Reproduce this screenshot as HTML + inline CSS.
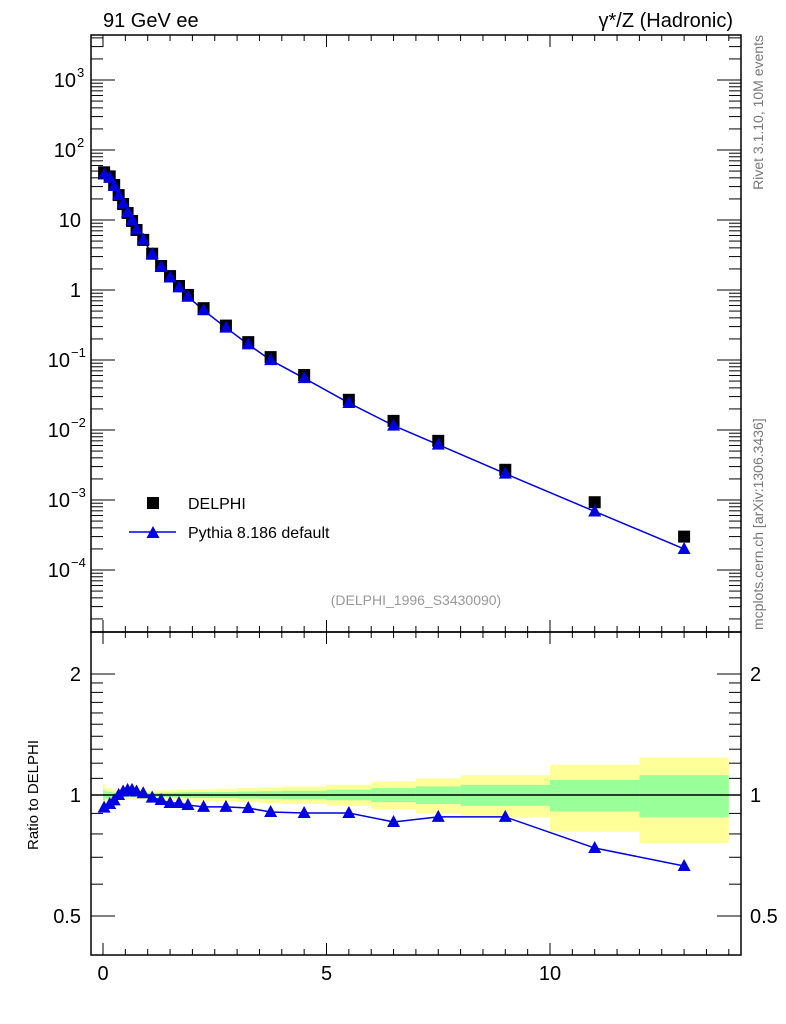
<!DOCTYPE html>
<html><head><meta charset="utf-8"><style>
body{margin:0;background:#fff}
svg{display:block;font-family:"Liberation Sans",sans-serif}
</style></head><body>
<svg id="c" width="786" height="1024" viewBox="0 0 786 1024" xmlns="http://www.w3.org/2000/svg">
<g id="bands"></g><g id="grid"></g><g id="marks"></g><g id="axes"></g>
<text x="103" y="27" font-size="20">91 GeV ee</text>
<text x="733" y="27" font-size="20" text-anchor="end">γ*/Z (Hadronic)</text>
<text transform="translate(763,35) rotate(-90)" font-size="14" fill="#777" text-anchor="end">Rivet 3.1.10,  10M events</text>
<text transform="translate(763,630) rotate(-90)" font-size="14" fill="#777">mcplots.cern.ch [arXiv:1306.3436]</text>
<text x="416" y="605" font-size="14" fill="#999" text-anchor="middle">(DELPHI_1996_S3430090)</text>
<text transform="translate(38,795) rotate(-90)" font-size="15" text-anchor="middle">Ratio to DELPHI</text>
<g>
<rect x="147" y="497" width="12" height="12" fill="#000"/>
<text x="188" y="509" font-size="16">DELPHI</text>
<line x1="129" y1="532" x2="176" y2="532" stroke="#0000e0" stroke-width="1.5"/>
<path d="M146.5,538 L159.5,538 L153,526 Z" fill="#0000e0"/>
<text x="188" y="538" font-size="16">Pythia 8.186 default</text>
</g>
</svg>
<script>
const xs=[0.025,0.15,0.25,0.35,0.45,0.55,0.65,0.75,0.9,1.1,1.3,1.5,1.7,1.9,2.25,2.75,3.25,3.75,4.5,5.5,6.5,7.5,9,11,13];
const edges=[0,0.05,0.2,0.3,0.4,0.5,0.6,0.7,0.8,1.0,1.2,1.4,1.6,1.8,2.0,2.5,3.0,3.5,4.0,5,6,7,8,10,12,14];
const data=[48,42,31.6,22.7,16.9,12.6,9.7,7.2,5.2,3.3,2.2,1.58,1.14,0.85,0.55,0.31,0.18,0.11,0.061,0.027,0.0135,0.0070,0.0027,0.00093,0.00030];
const ratio=[0.93,0.95,0.97,1.0,1.02,1.03,1.03,1.02,1.01,0.985,0.972,0.955,0.955,0.944,0.934,0.934,0.928,0.907,0.902,0.902,0.857,0.882,0.882,0.738,0.666];
const statErr=[0.03,0.02,0.015,0.012,0.012,0.012,0.012,0.012,0.012,0.013,0.013,0.014,0.015,0.016,0.017,0.018,0.02,0.022,0.025,0.03,0.04,0.05,0.06,0.09,0.12];
const totErr=[0.06,0.04,0.03,0.025,0.025,0.025,0.025,0.025,0.025,0.026,0.027,0.028,0.029,0.03,0.033,0.036,0.04,0.045,0.05,0.06,0.08,0.1,0.12,0.19,0.24];
const NS='http://www.w3.org/2000/svg';
const L=91,R=741,T=35,MB=632,RB=955;
const X=v=>103+v*44.7;
const Y=v=>290-70*Math.log10(v);
const YR=v=>795-121*Math.log2(v);
function mk(tag,at,par){const e=document.createElementNS(NS,tag);for(const k in at)e.setAttribute(k,at[k]);document.getElementById(par).appendChild(e);return e;}
for(let i=0;i<xs.length;i++){
 const x0=Math.max(X(edges[i]),L),x1=X(edges[i+1]);
 let e=mk('rect',{x:x0,y:YR(1+totErr[i]),width:x1-x0,height:YR(1-totErr[i])-YR(1+totErr[i]),fill:'#ffff99'},'bands');
 
 
 e=mk('rect',{x:x0,y:YR(1+statErr[i]),width:x1-x0,height:YR(1-statErr[i])-YR(1+statErr[i]),fill:'#99ff99'},'bands');
 
 
}
let ln=mk('line',{x1:L,x2:R,y1:YR(1),y2:YR(1),stroke:'#000','stroke-width':1.5},'bands');


let pm=xs.map((x,i)=>X(x)+','+Y(data[i]*ratio[i])).join(' ');
let pl=mk('polyline',{points:pm,fill:'none',stroke:'#0000e0','stroke-width':1.5},'marks');


let pr=xs.map((x,i)=>X(x)+','+YR(ratio[i])).join(' ');
pl=mk('polyline',{points:pr,fill:'none',stroke:'#0000e0','stroke-width':1.5},'marks');


function tri(x,y,nm){const e=mk('path',{d:`M${x-6.5},${y+5} L${x+6.5},${y+5} L${x},${y-7} Z`,fill:'#0000e0'},'marks');}
xs.forEach((x,i)=>{
 const r=mk('rect',{x:X(x)-6,y:Y(data[i])-6,width:12,height:12,fill:'#000'},'marks');
 
 
});
xs.forEach((x,i)=>{tri(X(x),Y(data[i]*ratio[i]),'pythia-point');tri(X(x),YR(ratio[i]),'ratio-point');});
function line(x1,y1,x2,y2,w){mk('line',{x1,y1,x2,y2,stroke:'#000','stroke-width':w||1},'axes');}
let fr=mk('rect',{x:L,y:T,width:R-L,height:MB-T,fill:'none',stroke:'#000','stroke-width':1.5},'axes');


fr=mk('rect',{x:L,y:MB,width:R-L,height:RB-MB,fill:'none',stroke:'#000','stroke-width':1.5},'axes');


for(let v=0;v<=14;v+=0.5){const maj=v%5===0;const len=maj?12:6;const x=X(v);
 [T,MB].forEach(t=>line(x,t,x,t+len));[MB,RB].forEach(b=>line(x,b,x,b-len));}
const xlab=[0,5,10];
xlab.forEach(v=>{const t=mk('text',{x:X(v),y:980,'font-size':20,'text-anchor':'middle'},'axes');t.textContent=v;});
for(let d=-5;d<=3;d++)for(let m=1;m<10;m++){const v=m*Math.pow(10,d);const y=Y(v);if(y<T||y>MB)continue;const len=m===1?24:12;line(L,y,L+len,y);line(R,y,R-len,y);}
const ylab=[[1000,'10','3'],[100,'10','2'],[10,'10',''],[1,'1',''],[0.1,'10','−1'],[0.01,'10','−2'],[0.001,'10','−3'],[0.0001,'10','−4']];
ylab.forEach(([v,b,e])=>{const t=mk('text',{x:e?(e.length>1?70:76):81,y:Y(v)+7,'font-size':20,'text-anchor':'end'},'axes');t.textContent=b;
 if(e){const s=mk('text',{x:e.length>1?71:77,y:Y(v)-3,'font-size':13},'axes');s.textContent=e;}});
[0.5,0.6,0.7,0.8,0.9,1,1.1,1.2,1.3,1.4,1.5,1.6,1.7,1.8,1.9,2].forEach(v=>{const y=YR(v);const maj=(v===0.5||v===1||v===2);const len=maj?24:12;line(L,y,L+len,y);line(R,y,R-len,y);});
const rlab=[[2,'2'],[1,'1'],[0.5,'0.5']];
rlab.forEach(([v,s])=>{let t=mk('text',{x:81,y:YR(v)+7,'font-size':20,'text-anchor':'end'},'axes');t.textContent=s;
 t=mk('text',{x:750,y:YR(v)+7,'font-size':20},'axes');t.textContent=s;});
</script>
</body></html>
